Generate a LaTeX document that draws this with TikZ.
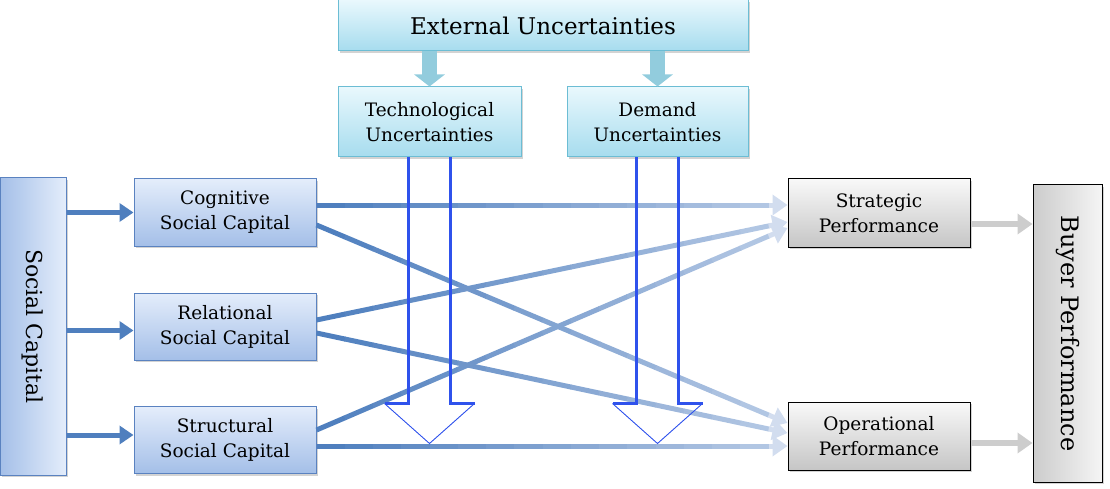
\documentclass[tikz,border=0pt]{standalone}
\usepackage{fontspec}
\setmainfont{DejaVu Serif}
\usetikzlibrary{arrows.meta,calc,shadows}
\definecolor{capblue}{HTML}{4F7FBE}
\definecolor{capline}{HTML}{5A82C0}
\definecolor{caplight}{HTML}{E4EDFB}
\definecolor{capdark}{HTML}{A4BFE8}
\definecolor{unclight}{HTML}{E9F8FD}
\definecolor{uncdark}{HTML}{A6DCEE}
\definecolor{uncline}{HTML}{6CBDD4}
\definecolor{uncarrow}{HTML}{92CCDD}
\definecolor{hollow}{HTML}{2F52EC}
\definecolor{fade}{HTML}{D2DDEF}
\definecolor{perfgray}{HTML}{CDCDCD}

% faded connector, drawn in short pieces
\newcommand{\fadearrow}[2]{%
  \foreach \k [evaluate=\k as \p using 100-\k*5,
               evaluate=\k as \a using \k*0.06,
               evaluate=\k as \b using \k*0.06+0.061] in {0,...,15}
    \draw[line width=5pt, capblue!\p!fade] ($(#1)!\a!(#2)$) -- ($(#1)!\b!(#2)$);
  \draw[line width=5pt, fade, -{Triangle[length=15pt,width=20pt]}]
    ($(#1)!0.96!(#2)$) -- (#2);
}

\begin{document}
\begin{tikzpicture}[x=1pt, y=-1pt, >=Stealth,
  shade/.style={drop shadow={shadow xshift=2pt, shadow yshift=-2pt, opacity=0.35}},
  capbox/.style={shade, draw=capline, line width=1pt, top color=caplight, bottom color=capdark,
                 minimum width=182pt, minimum height=67pt, align=center,
                 font=\fontsize{18.5}{25}\selectfont},
  uncbox/.style={shade, draw=uncline, line width=1pt, top color=unclight, bottom color=uncdark,
                 minimum height=70pt, align=center, font=\fontsize{18.5}{25}\selectfont},
  perfbox/.style={shade, draw=black, line width=1pt, top color=gray!5, bottom color=gray!45,
                  minimum width=182pt, minimum height=68pt, align=center,
                  font=\fontsize{18.5}{25}\selectfont},
  feed/.style={line width=5pt, capblue, -{Triangle[length=14pt,width=18pt]}},
  drop/.style={line width=15pt, uncarrow, -{Triangle[length=12pt,width=30pt]}},
  outarrow/.style={line width=6pt, perfgray, -{Triangle[length=15pt,width=20pt]}}]
  \useasboundingbox (0,0) rectangle (1110,489);

  % boxes
  \node[shade, draw=capline, line width=1pt, left color=capdark, right color=caplight,
        minimum width=66pt, minimum height=297pt] (soc) at (33,326.5) {};
  \node[rotate=-90, font=\fontsize{22}{26}\selectfont] at (soc) {Social Capital};
  \node[capbox] (cog) at (225,212.5) {Cognitive\\Social Capital};
  \node[capbox] (rel) at (225,326.5) {Relational\\Social Capital};
  \node[capbox] (str) at (225,440) {Structural\\Social Capital};
  \node[uncbox, minimum width=410pt, minimum height=51pt,
        font=\fontsize{23}{26}\selectfont] (ext) at (543,25.5) {External Uncertainties};
  \node[uncbox, minimum width=183pt] (tech) at (429.5,122) {Technological\\Uncertainties};
  \node[uncbox, minimum width=181pt] (dem) at (657.5,122) {Demand\\Uncertainties};
  \node[perfbox] (strat) at (879,213) {Strategic\\Performance};
  \node[perfbox] (oper) at (879,436) {Operational\\Performance};
  \node[shade, draw=black, line width=1pt, left color=gray!40, right color=gray!8,
        minimum width=69pt, minimum height=297pt] (buyer) at (1067.5,333.5) {};
  \node[rotate=-90, font=\fontsize{24}{26}\selectfont] at (buyer) {Buyer Performance};

  % social capital feeds
  \draw[feed] (soc.east |- cog) -- (cog.west);
  \draw[feed] ([yshift=-4pt]soc.east |- rel) -- ([yshift=-4pt]rel.west);
  \draw[feed] ([yshift=5pt]soc.east |- str) -- ([yshift=5pt]str.west);

  % uncertainty drops
  \draw[drop] (ext.south -| tech) -- (tech.north);
  \draw[drop] (ext.south -| dem) -- (dem.north);

  % capital to performance
  \coordinate (cogA) at ([yshift=7.5pt]cog.east);
  \coordinate (cogB) at ([yshift=-12.5pt]cog.east);
  \coordinate (relA) at ([yshift=6.5pt]rel.east);
  \coordinate (relB) at ([yshift=-6.5pt]rel.east);
  \coordinate (strA) at ([yshift=10pt]str.east);
  \coordinate (strB) at ([yshift=-6pt]str.east);
  \coordinate (stratA) at ([yshift=8pt]strat.west);
  \coordinate (stratB) at ([yshift=-9pt]strat.west);
  \coordinate (stratC) at ([yshift=-15pt]strat.west);
  \coordinate (operA) at ([yshift=13pt]oper.west);
  \coordinate (operB) at ([yshift=3pt]oper.west);
  \coordinate (operC) at ([yshift=-10pt]oper.west);
  \fadearrow{cogA}{stratA}
  \fadearrow{cogB}{operA}
  \fadearrow{relA}{stratB}
  \fadearrow{relB}{operB}
  \fadearrow{strA}{stratC}
  \fadearrow{strB}{operC}

  % hollow arrows
  \foreach \u in {tech,dem} {
    \draw[hollow, line width=2.4pt] ([xshift=-21pt]\u.south) -- ++(0,246) -- ++(-24,0);
    \draw[hollow, line width=2.4pt] ([xshift=21pt]\u.south) -- ++(0,246) -- ++(24,0);
    \draw[hollow, line width=0.9pt] ([xshift=-45pt,yshift=-246pt]\u.south)
      -- ([yshift=-286pt]\u.south) -- ([xshift=45pt,yshift=-246pt]\u.south);
  }

  % performance to buyer
  \draw[outarrow] ([yshift=-11pt]strat.east) -- ([yshift=-11pt]strat.east -| buyer.west);
  \draw[outarrow] ([yshift=-7pt]oper.east) -- ([yshift=-7pt]oper.east -| buyer.west);
\end{tikzpicture}
\end{document}
